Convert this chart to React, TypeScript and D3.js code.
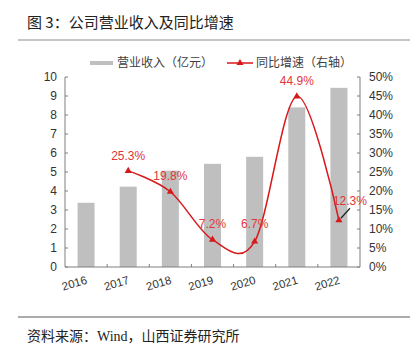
import React from "react";
import * as d3 from "d3";

const years = ["2016", "2017", "2018", "2019", "2020", "2021", "2022"];
const revenue = [3.38, 4.23, 5.07, 5.43, 5.8, 8.4, 9.43];
const growthYears = ["2017", "2018", "2019", "2020", "2021", "2022"];
const growth = [25.3, 19.8, 7.2, 6.7, 44.9, 12.3];
const leftTicks = [0, 1, 2, 3, 4, 5, 6, 7, 8, 9, 10];
const rightTicks = [0, 5, 10, 15, 20, 25, 30, 35, 40, 45, 50];

const W = 414, H = 348;
const left = 65, right = 360, top = 77, bottom = 267;
const axisColor = "#7f7f7f";
const red = "#d7191c";
const labelRed = "#e0363a";
const font = "'Liberation Sans', Arial, 'Noto Sans CJK SC', sans-serif";

export default function App() {
  const xOuter = d3.scaleBand<string>().domain(years).range([left, right]);
  const yL = d3.scaleLinear().domain([0, 10]).range([bottom, top]);
  const yR = d3.scaleLinear().domain([0, 50]).range([bottom, top]);
  const cx = (c: string) => (xOuter(c) as number) + xOuter.bandwidth() / 2;
  const pts: [number, number][] = growthYears.map((c, i) => [cx(c), yR(growth[i])]);
  const line = d3.line().curve(d3.curveCatmullRom.alpha(0))(pts) as string;
  const tri = d3.symbol().type(d3.symbolTriangle).size(22)() as string;
  const bw = 17;

  const labelOff: [number, number][] = [
    [0, -11], [0, -12], [0, -12], [0, -14], [0, -11], [11, -15],
  ];

  return (
    <svg width={W} height={H} style={{ position: "absolute", left: 0, top: 0, background: "#fff" }}>
      <text x={27} y={28} fontSize={15} fill="#222" fontFamily="'Noto Sans CJK SC', sans-serif">图 3：公司营业收入及同比增速</text>
      <line x1={18} x2={410} y1={40} y2={40} stroke="#8c8c8c" strokeWidth={1.2} />

      {/* legend */}
      <rect x={90} y={61} width={23} height={4} fill="#bfbfbf" />
      <text x={117} y={67} fontSize={12} fill="#404040" fontFamily="'Noto Sans CJK SC', sans-serif">营业收入（亿元）</text>
      <line x1={227} x2={253} y1={63} y2={63} stroke={red} strokeWidth={1.5} />
      <path d={tri} transform="translate(240,63)" fill={red} />
      <text x={256} y={67} fontSize={12} fill="#404040" fontFamily="'Noto Sans CJK SC', sans-serif">同比增速（右轴）</text>

      {/* bars */}
      {years.map((c, i) => (
        <rect key={c} x={cx(c) - bw / 2} y={yL(revenue[i])} width={bw} height={bottom - yL(revenue[i])} fill="#bfbfbf" />
      ))}

      {/* axes */}
      <line x1={left} x2={left} y1={top} y2={bottom} stroke={axisColor} />
      <line x1={right} x2={right} y1={top} y2={bottom} stroke={axisColor} />
      <line x1={left} x2={right} y1={bottom} y2={bottom} stroke={axisColor} />
      {leftTicks.map((t) => (
        <g key={"l" + t}>
          <line x1={left} x2={left + 3} y1={yL(t)} y2={yL(t)} stroke={axisColor} />
          <text x={left - 8} y={yL(t) + 4} fontSize={12} textAnchor="end" fill="#333" fontFamily={font}>{t}</text>
        </g>
      ))}
      {rightTicks.map((t) => (
        <g key={"r" + t}>
          <line x1={right - 3} x2={right} y1={yR(t)} y2={yR(t)} stroke={axisColor} />
          <text x={369} y={yR(t) + 4} fontSize={12} textAnchor="start" fill="#333" fontFamily={font}>{t}%</text>
        </g>
      ))}
      {years.slice(1).map((c) => (
        <line key={"xt" + c} x1={xOuter(c) as number} x2={xOuter(c) as number} y1={bottom} y2={bottom - 3} stroke={axisColor} />
      ))}
      {years.map((c) => (
        <text key={"xl" + c} transform={`translate(${cx(c) - 10.5},${287}) rotate(-17)`} fontSize={11.5} textAnchor="middle" fill="#333" fontFamily={font}>{c}</text>
      ))}

      {/* growth line */}
      <path d={line} fill="none" stroke={red} strokeWidth={1.5} />
      {pts.map((p, i) => (
        <path key={"m" + i} d={tri} transform={`translate(${p[0]},${p[1]})`} fill={red} />
      ))}
      {pts.map((p, i) => (
        <text key={"gl" + i} x={p[0] + labelOff[i][0]} y={p[1] + labelOff[i][1]} fontSize={12} textAnchor="middle" fill={labelRed} fontFamily={font}>
          {growth[i].toFixed(1)}%
        </text>
      ))}
      <line x1={pts[5][0] + 11} y1={pts[5][1] - 12} x2={pts[5][0] + 2} y2={pts[5][1] - 2} stroke="#222" strokeWidth={1.2} />

      <line x1={18} x2={410} y1={317} y2={317} stroke="#595959" strokeWidth={1} />
      <text x={27} y={341} fontSize={14} fill="#222" fontFamily="'Liberation Serif', 'Noto Sans CJK SC', serif">资料来源：Wind，山西证券研究所</text>
    </svg>
  );
}
